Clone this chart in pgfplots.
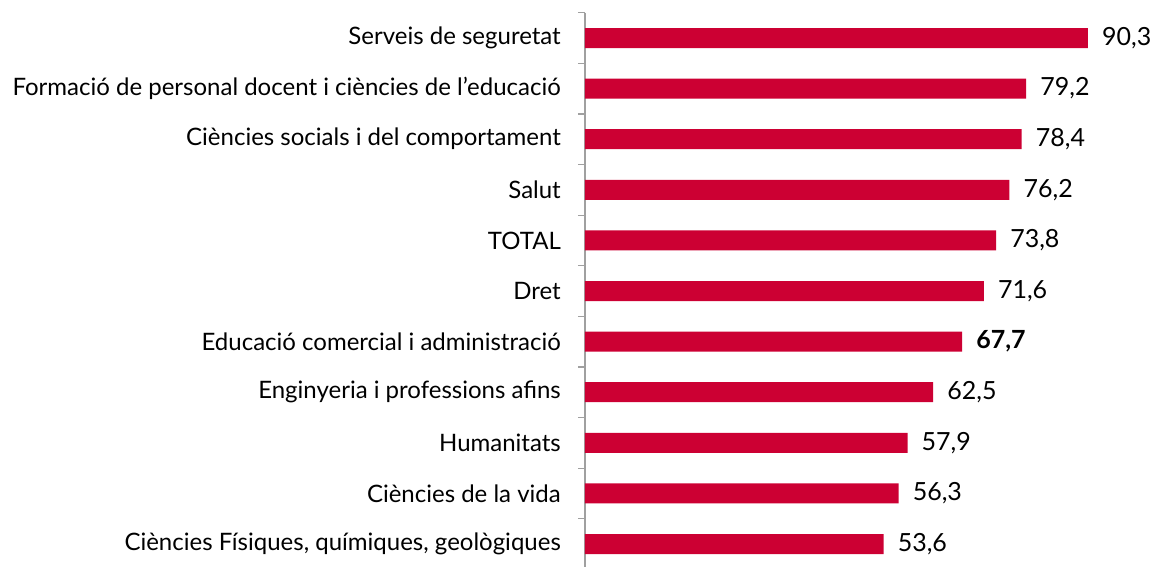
\documentclass[border=0pt]{standalone}
\usepackage{fontspec}
\setmainfont{Lato}
\usepackage{pgfplots}
\pgfplotsset{compat=1.18}
\definecolor{barred}{HTML}{CC0033}
\definecolor{axgray}{HTML}{A0A0A0}
\begin{document}
\begin{tikzpicture}
\begin{axis}[
  at={(585pt,-12.7pt)}, anchor=north west,
  scale only axis, width=557pt, height=556.6pt,
  xbar, bar width=20pt,
  xmin=0, xmax=100, ymin=-0.5, ymax=10.5, y dir=reverse,
  hide x axis,
  axis y line*=left,
  axis line style={axgray, line width=1.5pt},
  ytick={0,...,10},
  yticklabels={Serveis de seguretat,
    Formació de personal docent i ciències de l'educació,
    Ciències socials i del comportament,
    Salut, TOTAL, Dret,
    Educació comercial i administració,
    Enginyeria i professions afins,
    Humanitats, Ciències de la vida,
    {Ciències Físiques, químiques, geològiques}},
  major tick length=0pt,
  minor ytick={-0.5,0.5,...,10.5},
  minor tick length=7pt, tick align=outside,
  every tick/.style={axgray, line width=1.2pt},
  yticklabel style={font=\fontsize{24}{28}\selectfont, text=black, anchor=east, inner sep=0pt, xshift=-24pt},
  nodes near coords, point meta=explicit symbolic,
  nodes near coords style={anchor=west, xshift=14pt, inner sep=0pt, font=\fontsize{25}{30}\selectfont, text=black},
  clip=false,
]
\addplot[fill=barred, draw=none] coordinates {
  (90.3,0) [90,3]
  (79.2,1) [79,2]
  (78.4,2) [78,4]
  (76.2,3) [76,2]
  (73.8,4) [73,8]
  (71.6,5) [71,6]
  (67.7,6) [\textbf{67,7}]
  (62.5,7) [62,5]
  (57.9,8) [57,9]
  (56.3,9) [56,3]
  (53.6,10) [53,6]
};
\end{axis}
\pgfresetboundingbox
\path[use as bounding box] (0pt,0pt) rectangle (1157pt,-566pt);
\end{tikzpicture}
\end{document}
